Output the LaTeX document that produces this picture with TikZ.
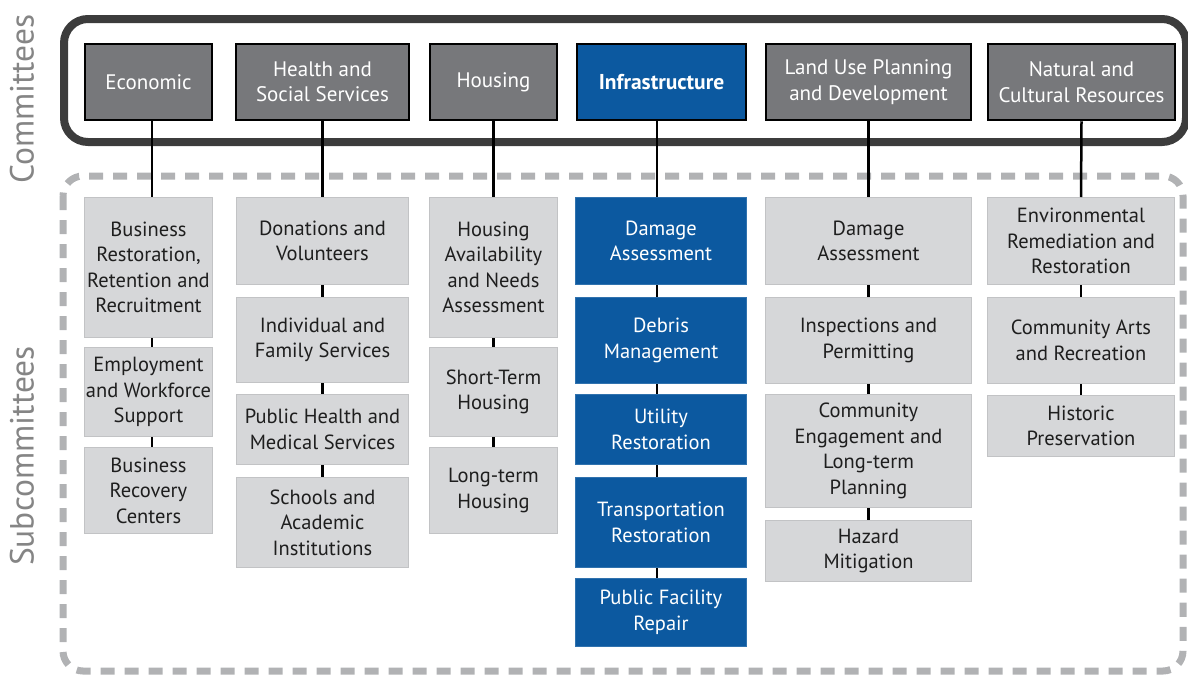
\documentclass[tikz,border=0pt]{standalone}
\usepackage{fontspec}
\setmainfont{PT Sans}
\definecolor{comgray}{HTML}{77787B}
\definecolor{infblue}{HTML}{0C59A0}
\definecolor{subgray}{HTML}{D6D7D9}
\definecolor{subedge}{HTML}{C2C3C5}
\definecolor{outerdark}{HTML}{3C3C3C}
\definecolor{dashgray}{HTML}{B1B2B4}
\definecolor{sidegray}{HTML}{858585}
\definecolor{subtext}{HTML}{1E1E1E}
\begin{document}
\begin{tikzpicture}[x=1pt,y=-1pt,
  boxbase/.style={inner sep=0pt, align=center, font=\fontsize{20.5}{25.5}\selectfont},
  com/.style={boxbase, draw=black, line width=2.5pt, fill=comgray, text=white, minimum height=76pt, font=\fontsize{21}{25.5}\selectfont},
  inf/.style={com, fill=infblue, font=\fontsize{21.5}{25.5}\selectfont\bfseries},
  sub/.style={boxbase, draw=subedge, line width=1pt, fill=subgray, text=subtext},
  isub/.style={boxbase, draw=infblue!85!white, line width=1pt, fill=infblue, text=white},
  link/.style={draw=black, line width=2.5pt},
  side/.style={text=sidegray, font=\fontsize{33.5}{36}\selectfont, rotate=90, inner sep=0pt}
]
\useasboundingbox (0,0) rectangle (1188,675);

% frames
\draw[outerdark, line width=8pt, rounded corners=24pt] (64,19) rectangle (1186,142);
\draw[dashgray, line width=7pt, dash pattern=on 14pt off 10pt, rounded corners=20pt] (63,176) rectangle (1183,671);

% side labels
\node[side] (lblc) at (22,99) {Committees};
\node[side] (lbls) at (22,456) {Subcommittees};

% committees
\node[com, minimum width=127pt] (ce) at (148.5,82) {Economic};
\node[com, minimum width=173pt] (ch) at (322.5,82) {Health and\\Social Services};
\node[com, minimum width=127pt] (cho) at (493.5,82) {Housing};
\node[inf, minimum width=169pt] (ci) at (661.5,82) {Infrastructure};
\node[com, minimum width=205pt] (cl) at (868.5,82) {Land Use Planning\\and Development};
\node[com, minimum width=187pt] (cn) at (1081.5,82) {Natural and\\Cultural Resources};

% Economic column
\node[sub, minimum width=128pt, minimum height=140pt] (e1) at (148.5,267.5) {Business\\Restoration,\\Retention and\\Recruitment};
\node[sub, minimum width=128pt, minimum height=89pt] (e2) at (148.5,392) {Employment\\and Workforce\\Support};
\node[sub, minimum width=128pt, minimum height=86pt] (e3) at (148.5,490.5) {Business\\Recovery\\Centers};

% Health column
\node[sub, minimum width=172pt, minimum height=87pt] (h1) at (322.5,241) {Donations and\\Volunteers};
\node[sub, minimum width=172pt, minimum height=85pt] (h2) at (322.5,340) {Individual and\\Family Services};
\node[sub, minimum width=172pt, minimum height=70pt] (h3) at (322.5,429.5) {Public Health and\\Medical Services};
\node[sub, minimum width=172pt, minimum height=90pt] (h4) at (322.5,522.5) {Schools and\\Academic\\Institutions};

% Housing column
\node[sub, minimum width=128pt, minimum height=140pt] (o1) at (493.5,267.5) {Housing\\Availability\\and Needs\\Assessment};
\node[sub, minimum width=128pt, minimum height=89pt] (o2) at (493.5,392) {Short-Term\\Housing};
\node[sub, minimum width=128pt, minimum height=86pt] (o3) at (493.5,490.5) {Long-term\\Housing};

% Infrastructure column
\node[isub, minimum width=171pt, minimum height=87pt] (i1) at (661,241) {Damage\\Assessment};
\node[isub, minimum width=171pt, minimum height=86pt] (i2) at (661,340.5) {Debris\\Management};
\node[isub, minimum width=171pt, minimum height=70pt] (i3) at (661,429.5) {Utility\\Restoration};
\node[isub, minimum width=171pt, minimum height=90pt] (i4) at (661,522.5) {Transportation\\Restoration};
\node[isub, minimum width=171pt, minimum height=68pt] (i5) at (661,612.5) {Public Facility\\Repair};

% Land use column
\node[sub, minimum width=206pt, minimum height=87pt] (l1) at (868.5,241) {Damage\\Assessment};
\node[sub, minimum width=206pt, minimum height=86pt] (l2) at (868.5,340.5) {Inspections and\\Permitting};
\node[sub, minimum width=206pt, minimum height=113pt] (l3) at (868.5,451) {Community\\Engagement and\\Long-term\\Planning};
\node[sub, minimum width=206pt, minimum height=61pt] (l4) at (868.5,551) {Hazard\\Mitigation};

% Natural column
\node[sub, minimum width=187pt, minimum height=87pt] (n1) at (1081,241) {Environmental\\Remediation and\\Restoration};
\node[sub, minimum width=187pt, minimum height=86pt] (n2) at (1081,340.5) {Community Arts\\and Recreation};
\node[sub, minimum width=187pt, minimum height=61pt] (n3) at (1081,426) {Historic\\Preservation};

% connectors
\draw[link] ([xshift=3.5pt]ce.south) -- ([xshift=3.5pt]e1.north);
\draw[link] ([xshift=3.5pt]e1.south) -- ([xshift=3.5pt]e2.north);
\draw[link] ([xshift=3.5pt]e2.south) -- ([xshift=3.5pt]e3.north);

\draw[link] (ch.south) -- (h1.north);
\draw[link] (h1.south) -- (h2.north);
\draw[link] (h2.south) -- (h3.north);
\draw[link] (h3.south) -- (h4.north);

\draw[link] (cho.south) -- (o1.north);
\draw[link] (o1.south) -- (o2.north);
\draw[link] (o2.south) -- (o3.north);

\draw[link] ([xshift=-4.5pt]ci.south) -- ([xshift=-4pt]i1.north);
\draw[link] ([xshift=-4pt]i1.south) -- ([xshift=-4pt]i2.north);
\draw[link] ([xshift=-4pt]i2.south) -- ([xshift=-4pt]i3.north);
\draw[link] ([xshift=-4pt]i3.south) -- ([xshift=-4pt]i4.north);
\draw[link] ([xshift=-4pt]i4.south) -- ([xshift=-4pt]i5.north);

\draw[link] (cl.south) -- (l1.north);
\draw[link] (l1.south) -- (l2.north);
\draw[link] (l2.south) -- (l3.north);
\draw[link] (l3.south) -- (l4.north);

\draw[link] (cn.south) -- (n1.north);
\draw[link] (n1.south) -- (n2.north);
\draw[link] (n2.south) -- (n3.north);
\end{tikzpicture}
\end{document}
